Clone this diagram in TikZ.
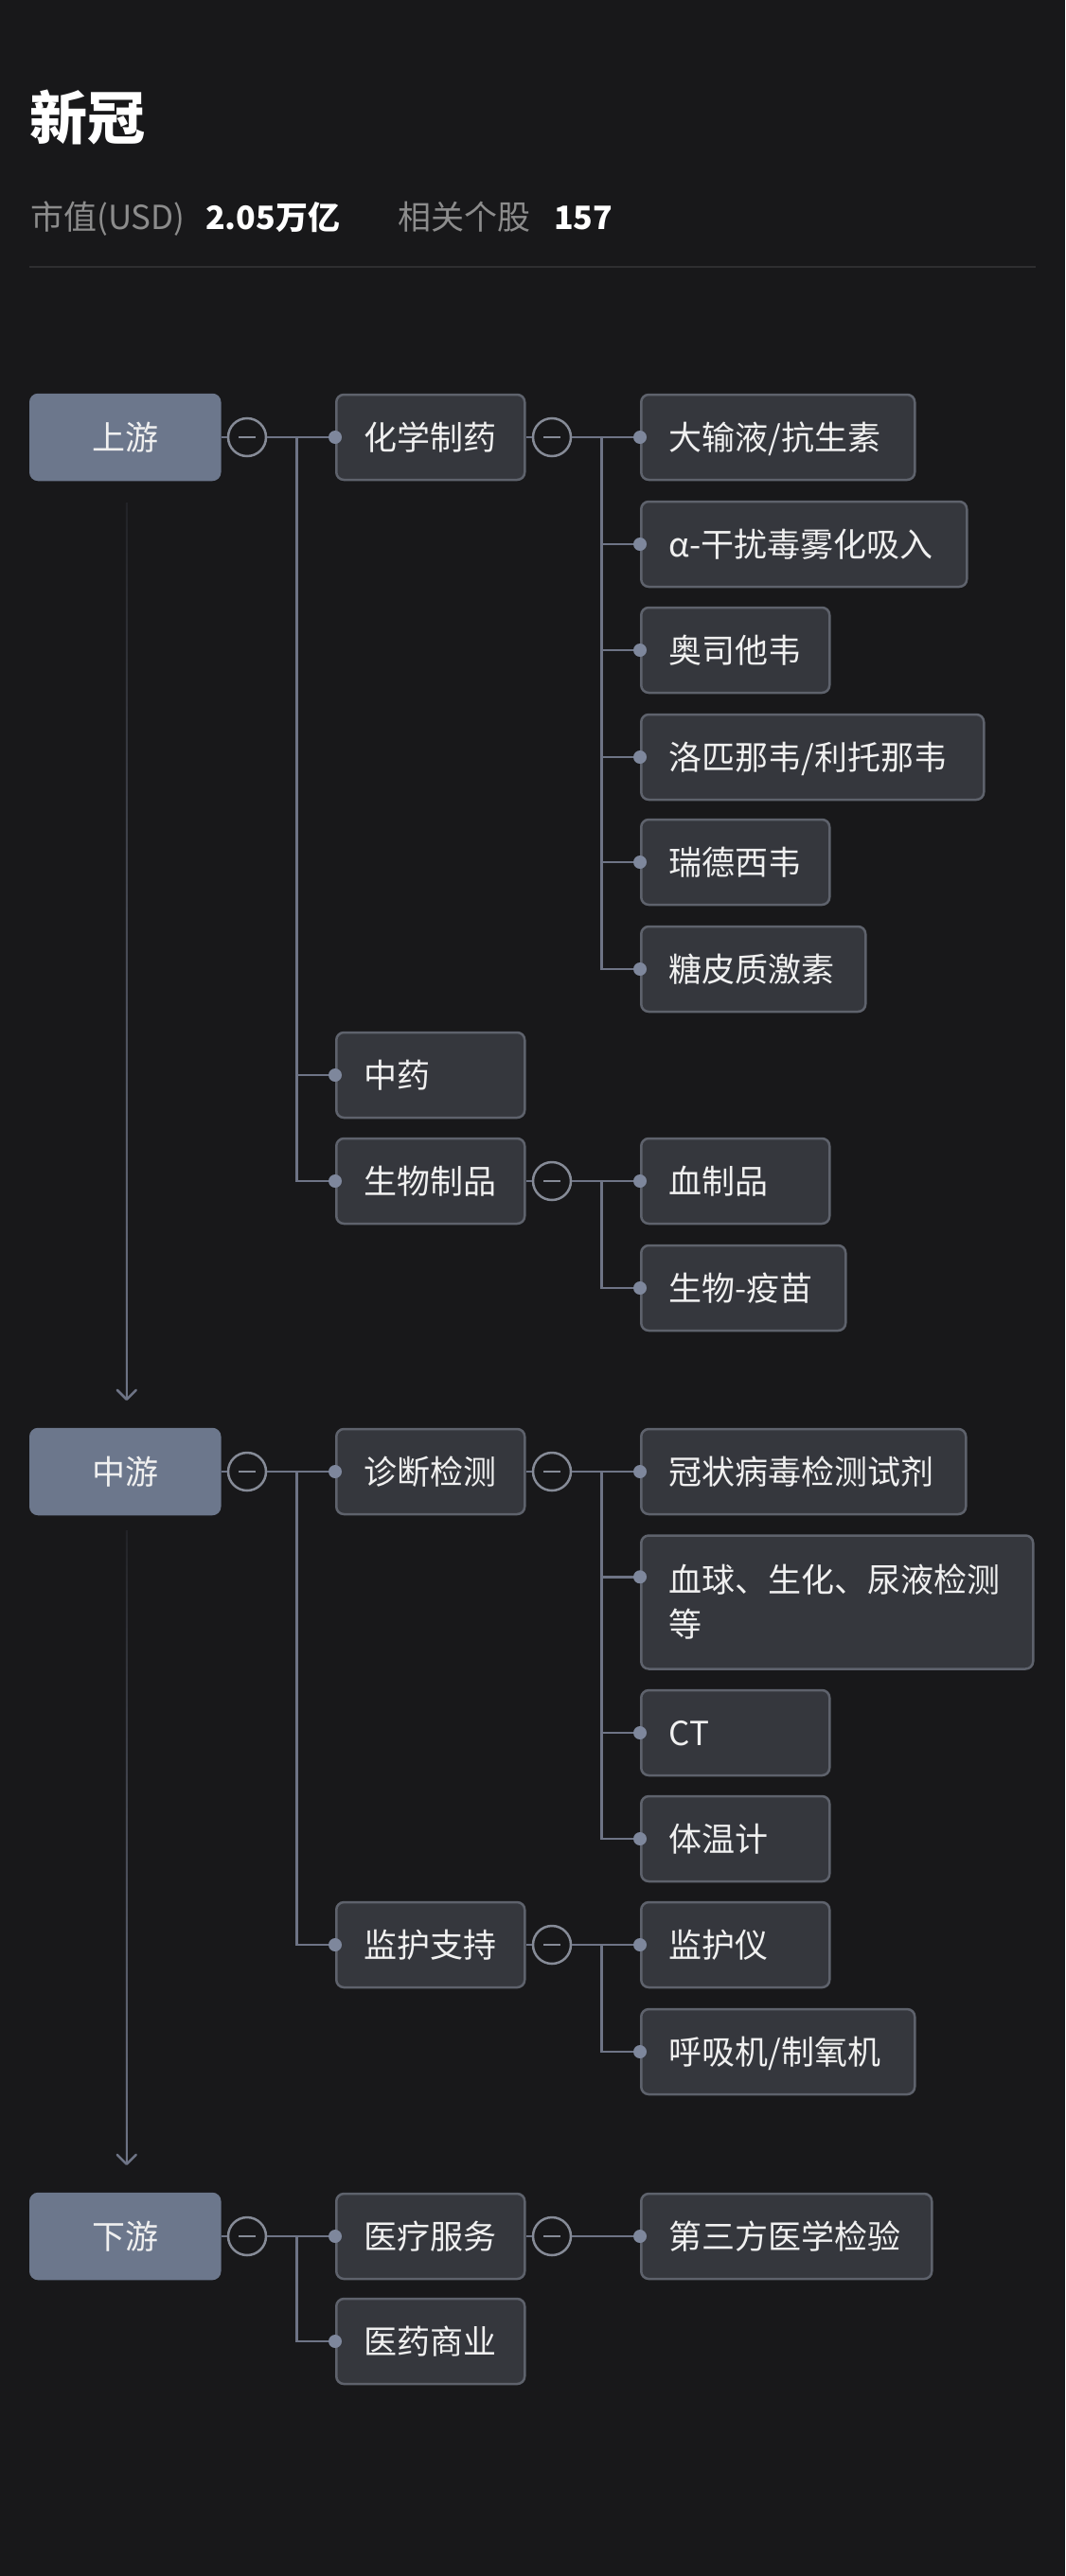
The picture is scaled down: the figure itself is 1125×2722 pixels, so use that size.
\documentclass[tikz,border=0pt]{standalone}
\usepackage{fontspec}
\setmainfont{Noto Sans CJK SC}
\usetikzlibrary{calc}
\definecolor{bg}{HTML}{18181A}
\definecolor{lzero}{HTML}{6C778C}
\definecolor{boxf}{HTML}{35373D}
\definecolor{boxd}{HTML}{5E626C}
\definecolor{lnc}{HTML}{6E7486}
\definecolor{dotc}{HTML}{7E879C}
\definecolor{circc}{HTML}{868B97}
\definecolor{txt}{HTML}{F0F0F0}
\definecolor{subg}{HTML}{8C8C8C}
\definecolor{sepc}{HTML}{2E2E30}
\begin{document}
\begin{tikzpicture}[x=1pt,y=-1pt,
  every node/.style={font=\fontsize{35}{47}\selectfont, text=txt},
  lbox/.style={rectangle, rounded corners=8pt, fill=boxf, draw=boxd, line width=2.5pt,
    anchor=west, minimum height=90pt, inner xsep=29.5pt, inner ysep=0pt, align=left,
    text height=30.8pt, text depth=4.2pt},
  lzbox/.style={lbox, fill=lzero, draw=lzero, align=center, text width=141pt},
  coll/.style={circle, draw=circc, line width=2.5pt, fill=bg, minimum size=40pt, inner sep=0pt},
  minus/.style={draw=circc, line width=2.5pt},
  conn/.style={draw=lnc, line width=2.5pt},
  subt/.style={anchor=west, inner sep=0pt, text height=30.8pt, text depth=4.2pt},
  arrowhd/.style={draw=lnc, line width=2.5pt, line cap=round, line join=round}
]
\fill[bg] (0,0) rectangle (1125,2722);
\useasboundingbox (0,0) rectangle (1125,2722);

% header
\node[anchor=west, inner sep=0pt, font=\fontsize{61}{61}\selectfont\bfseries, text=white,
  text height=53.7pt, text depth=7.3pt] (title) at (31,124) {新冠};
\node[subt, text=subg] (mv) at (32,229) {市值(USD)};
\node[subt, text=white, font=\fontsize{34}{47}\selectfont\bfseries] (mvv) at (217,229) {2.05万亿};
\node[subt, text=subg] (xg) at (420,229) {相关个股};
\node[subt, text=white, font=\fontsize{34}{47}\selectfont\bfseries] (xgv) at (585,229) {157};
\draw[sepc, line width=1.5pt] (31,282) -- (1094,282);

% level 0
\node[lzbox] (up) at (31,462) {上游};
\node[lzbox] (mid) at (31,1555) {中游};
\node[lzbox] (down) at (31,2363) {下游};

% level 1
\node[lbox, text width=140pt] (hx) at (354,462) {化学制药};
\node[lbox, text width=140pt] (zy) at (354,1136) {中药};
\node[lbox, text width=140pt] (sw) at (354,1248) {生物制品};
\node[lbox, text width=140pt] (zd) at (354,1555) {诊断检测};
\node[lbox, text width=140pt] (jh) at (354,2055) {监护支持};
\node[lbox, text width=140pt] (yl) at (354,2363) {医疗服务};
\node[lbox, text width=140pt] (yy) at (354,2474) {医药商业};

% level 2
\node[lbox, text width=230pt] (a1) at (676,462) {大输液/抗生素};
\node[lbox, text width=285pt] (a2) at (676,575) {α-干扰毒雾化吸入};
\node[lbox, text width=140pt] (a3) at (676,687) {奥司他韦};
\node[lbox, text width=303pt] (a4) at (676,800) {洛匹那韦/利托那韦};
\node[lbox, text width=140pt] (a5) at (676,911) {瑞德西韦};
\node[lbox, text width=178pt] (a6) at (676,1024) {糖皮质激素};
\node[lbox, text width=140pt] (b1) at (676,1248) {血制品};
\node[lbox, text width=157pt] (b2) at (676,1361) {生物-疫苗};
\node[lbox, text width=284pt] (c1) at (676,1555) {冠状病毒检测试剂};
\node[lbox, text width=355pt, minimum height=141pt, text depth=51.2pt] (c2) at (676,1693) {血球、生化、尿液检测\\等};
\node[lbox, text width=140pt] (c3) at (676,1831) {CT};
\node[lbox, text width=140pt] (c4) at (676,1943) {体温计};
\node[lbox, text width=140pt] (d1) at (676,2055) {监护仪};
\node[lbox, text width=230pt] (d2) at (676,2168) {呼吸机/制氧机};
\node[lbox, text width=248pt] (e1) at (676,2363) {第三方医学检验};
\coordinate (c2pin) at ($(c2.north west)+(0,45)$);

% collapse circles
\node[coll] (cup) at (261,462) {};
\node[coll] (cmid) at (261,1555) {};
\node[coll] (cdown) at (261,2363) {};
\node[coll] (chx) at (583,462) {};
\node[coll] (csw) at (583,1248) {};
\node[coll] (czd) at (583,1555) {};
\node[coll] (cjh) at (583,2055) {};
\node[coll] (cyl) at (583,2363) {};
\foreach \c in {cup,cmid,cdown,chx,csw,czd,cjh,cyl}{
  \draw[minus] ($(\c)+(-9,0)$) -- ($(\c)+(9,0)$);
}

% parent -> circle
\draw[conn] (up.east) -- (cup.west);
\draw[conn] (mid.east) -- (cmid.west);
\draw[conn] (down.east) -- (cdown.west);
\draw[conn] (hx.east) -- (chx.west);
\draw[conn] (sw.east) -- (csw.west);
\draw[conn] (zd.east) -- (czd.west);
\draw[conn] (jh.east) -- (cjh.west);
\draw[conn] (yl.east) -- (cyl.west);

% circle -> children
\foreach \k in {hx,zy,sw}{ \draw[conn] (cup.east) -- ++(31,0) |- (\k.west); }
\foreach \k in {zd,jh}{ \draw[conn] (cmid.east) -- ++(31,0) |- (\k.west); }
\foreach \k in {yl,yy}{ \draw[conn] (cdown.east) -- ++(31,0) |- (\k.west); }
\foreach \k in {a1,a2,a3,a4,a5,a6}{ \draw[conn] (chx.east) -- ++(31,0) |- (\k.west); }
\foreach \k in {b1,b2}{ \draw[conn] (csw.east) -- ++(31,0) |- (\k.west); }
\foreach \k in {c1,c3,c4}{ \draw[conn] (czd.east) -- ++(31,0) |- (\k.west); }
\draw[conn] (czd.east) -- ++(31,0) |- (c2pin);
\foreach \k in {d1,d2}{ \draw[conn] (cjh.east) -- ++(31,0) |- (\k.west); }
\draw[conn] (cyl.east) -- (e1.west);

% dots
\foreach \k in {hx,zy,sw,zd,jh,yl,yy,a1,a2,a3,a4,a5,a6,b1,b2,c1,c3,c4,d1,d2,e1}{
  \fill[dotc] (\k.west) circle (7pt);
}
\fill[dotc] (c2pin) circle (7pt);

% flow arrows
\shade[top color=lnc!12!bg, bottom color=lnc] ($(up.south)+(0.5,23)$) rectangle ($(mid.north)+(2.5,-32)$);
\draw[arrowhd] ($(mid.north)+(-8.5,-40)$) -- ($(mid.north)+(1.5,-30)$) -- ($(mid.north)+(11.5,-40)$);
\shade[top color=lnc!12!bg, bottom color=lnc] ($(mid.south)+(0.5,16)$) rectangle ($(down.north)+(2.5,-32)$);
\draw[arrowhd] ($(down.north)+(-8.5,-40)$) -- ($(down.north)+(1.5,-30)$) -- ($(down.north)+(11.5,-40)$);
\end{tikzpicture}
\end{document}
